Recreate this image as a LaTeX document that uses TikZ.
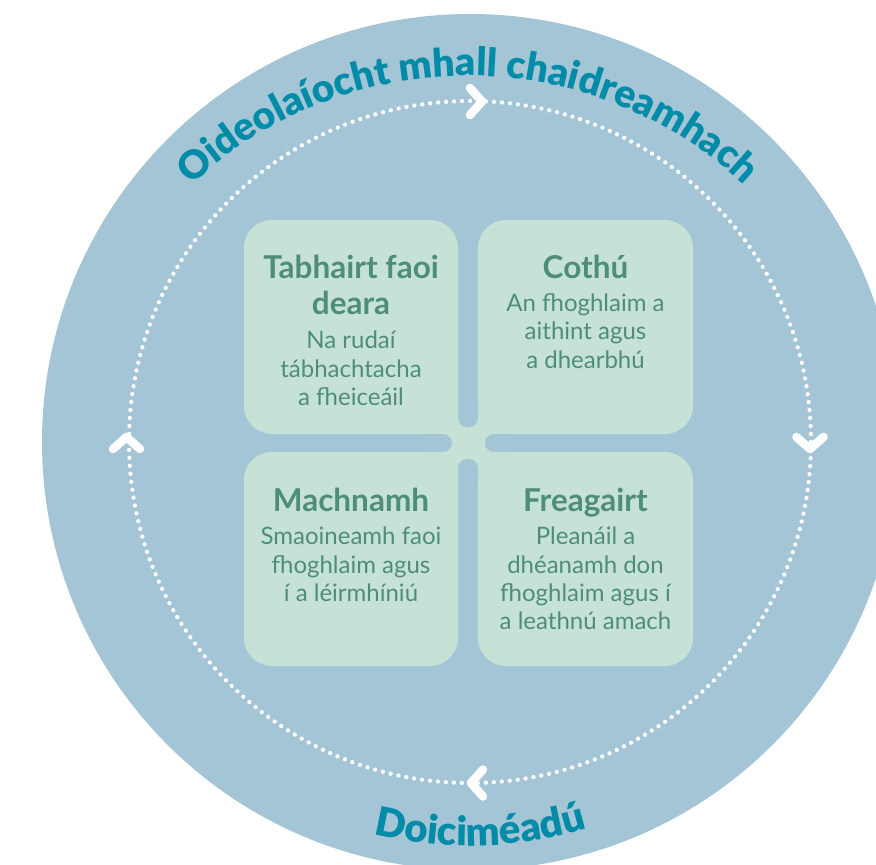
\documentclass[tikz,border=0pt]{standalone}
\usepackage{fontspec}
\setmainfont{Lato}
\newfontfamily\latoblack{Lato Black}
\usetikzlibrary{decorations.text}
\definecolor{bgblue}{RGB}{163,197,214}
\definecolor{boxgreen}{RGB}{198,226,214}
\definecolor{txtgreen}{RGB}{78,142,120}
\definecolor{titleblue}{RGB}{0,140,168}
\newcommand\arcfont{\fontsize{39}{40}\selectfont\latoblack}
\newcommand\arcfontb{\fontsize{40}{40}\selectfont\latoblack}
\begin{document}
\begin{tikzpicture}[x=1pt,y=1pt,
  box/.style={fill=boxgreen, rounded corners=28pt},
  slot/.style={fill=bgblue, rounded corners=9pt},
  chev/.style={white, line width=8.5pt, line cap=round, line join=round},
  hd/.style={anchor=base, text=txtgreen, font=\fontsize{31.5}{36}\selectfont\bfseries, inner sep=0pt},
  bd/.style={anchor=base, text=txtgreen, font=\fontsize{24}{28}\selectfont, inner sep=0pt},
]
\useasboundingbox (0,0) rectangle (876,-865);
\clip (0,0) rectangle (876,-865);
% big circle
\fill[bgblue] (470,-442) circle[radius=428];
% dotted cycle
\draw[white, line width=4.3pt, line cap=round, dash pattern=on 0pt off 7.995pt] (470,-442) circle[radius=341];
% chevrons
\draw[chev] (470,-88) -- (482,-101.5) -- (470,-115);
\draw[chev] (796.5,-437) -- (810,-449) -- (823.5,-437);
\draw[chev] (483,-769.5) -- (471,-783) -- (483,-796.5);
\draw[chev] (113,-449) -- (126.5,-437) -- (140,-449);
% curved titles
\path[decorate, decoration={text along path, text align=center, text color=titleblue,
  text={|\arcfont|Oideolaíocht mhall chaidreamhach}}]
  ([shift={(468,-480)}]150:404) arc[start angle=150, end angle=30, radius=404];
\path[decorate, decoration={text along path, text align=center, text color=titleblue,
  text={|\arcfontb|Doiciméadú}}]
  ([shift={(470,-442)}]236.5:404) arc[start angle=236.5, end angle=306.5, radius=404];
% boxes
\fill[box] (244,-220) rectangle (458,-434);
\fill[box] (478,-220) rectangle (693,-434);
\fill[box] (244,-452) rectangle (458,-666);
\fill[box] (478,-452) rectangle (693,-666);
\fill[boxgreen] (430,-406) rectangle (506,-480);
\fill[slot] (458,-395) rectangle (478,-427);
\fill[slot] (458,-459) rectangle (478,-491);
\fill[slot] (420,-434) rectangle (452,-452);
\fill[slot] (485,-434) rectangle (517,-452);
% texts
\node[hd] (tlh1) at (351,-278) {Tabhairt faoi};
\node[hd] (tlh2) at (351,-314) {deara};
\node[bd] (tlb1) at (351,-348) {Na rudaí};
\node[bd] (tlb2) at (351,-377) {tábhachtacha};
\node[bd] (tlb3) at (351,-405) {a fheiceáil};
\node[hd] (trh) at (585.5,-278) {Cothú};
\node[bd] (trb1) at (585.5,-311) {An fhoghlaim a};
\node[bd] (trb2) at (585.5,-339) {aithint agus};
\node[bd] (trb3) at (585.5,-368) {a dhearbhú};
\node[hd] (blh) at (351,-511) {Machnamh};
\node[bd] (blb1) at (351,-544) {Smaoineamh faoi};
\node[bd] (blb2) at (351,-573) {fhoghlaim agus};
\node[bd] (blb3) at (351,-601) {í a léirmhíniú};
\node[hd] (brh) at (585.5,-511) {Freagairt};
\node[bd] (brb1) at (585.5,-544) {Pleanáil a};
\node[bd] (brb2) at (585.5,-573) {dhéanamh don};
\node[bd] (brb3) at (585.5,-601) {fhoghlaim agus í};
\node[bd] (brb4) at (585.5,-629) {a leathnú amach};
\end{tikzpicture}
\end{document}
